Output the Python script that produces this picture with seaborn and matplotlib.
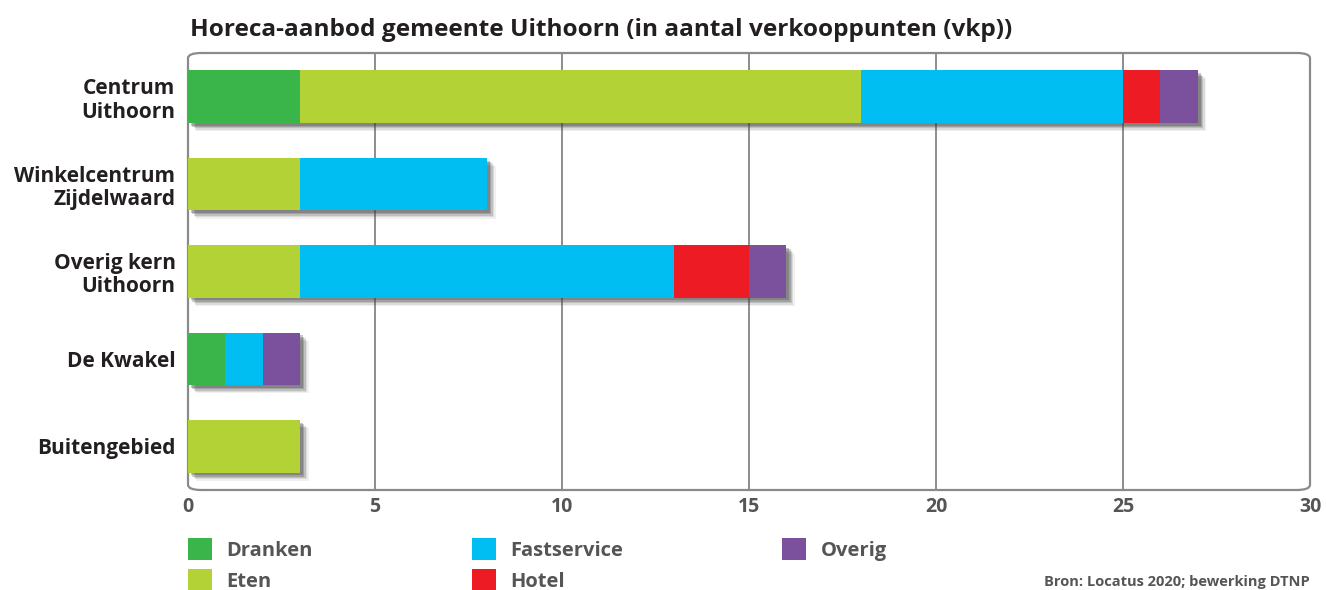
import matplotlib
matplotlib.use("Agg")
import matplotlib.pyplot as plt
import matplotlib.patheffects as pe
from matplotlib.patches import FancyBboxPatch, Patch
import seaborn as sns
import pandas as pd
import numpy as np

categories = ["Centrum\nUithoorn", "Winkelcentrum\nZijdelwaard", "Overig kern\nUithoorn", "De Kwakel", "Buitengebied"]
series = ["Dranken", "Eten", "Fastservice", "Hotel", "Overig"]
dranken = [3, 0, 0, 1, 0]
eten = [15, 3, 3, 0, 3]
fastservice = [7, 5, 10, 1, 0]
hotel = [1, 0, 2, 0, 0]
overig = [1, 0, 1, 1, 0]
colors = ["#3ab54a", "#b2d235", "#00bdf2", "#ed1c24", "#7b519d"]
xticks = [0, 5, 10, 15, 20, 25, 30]

sns.set_theme(style="white")
plt.rcParams["font.family"] = ["Open Sans", "DejaVu Sans"]

values = [dranken, eten, fastservice, hotel, overig]
cum = np.cumsum(np.array(values), axis=0)

fig = plt.figure(figsize=(13.26, 5.90), dpi=100)
ax = fig.add_axes([188/1326, 1 - 490/590, (1310-188)/1326, (490-53)/590])

# draw cumulative totals, outermost first
for i in range(len(series) - 1, -1, -1):
    df = pd.DataFrame({"cat": categories, "val": cum[i]})
    sns.barplot(data=df, y="cat", x="val", color=colors[i], orient="h",
                width=0.6, ax=ax, saturation=1, linewidth=0, zorder=3)

# soft drop shadow on total bars only (first drawn)
n = len(categories)
shadow = [pe.SimplePatchShadow(offset=(o, -o), shadow_rgbFace="#444444", alpha=a)
          for o, a in [(6, 0.08), (5, 0.12), (4, 0.18), (3, 0.25), (2, 0.3)]]
for k, p in enumerate(ax.patches):
    if k < n:
        p.set_path_effects(shadow + [pe.Normal()])

ax.set_xlim(0, 30)
ax.set_ylim(4.5, -0.5)
ax.set_xticks(xticks)
ax.set_xticklabels([str(t) for t in xticks])
ax.set_xlabel("")
ax.set_ylabel("")
for s in ax.spines.values():
    s.set_visible(False)
ax.grid(False)
for t in xticks[1:-1]:
    ax.axvline(t, color="#7a7a7a", lw=1.2, zorder=1)

frame = FancyBboxPatch((0, 0), 1, 1, boxstyle="round,pad=0,rounding_size=0.012",
                       transform=ax.transAxes, fill=False, ec="#8a8a8a", lw=1.6,
                       clip_on=False, zorder=2)
ax.add_patch(frame)

ax.tick_params(axis="x", length=0, pad=5, labelsize=14, labelcolor="#555555")
ax.tick_params(axis="y", length=0, pad=9, labelsize=15, labelcolor="#231f20")
for lab in ax.get_xticklabels():
    lab.set_fontweight("bold")
for lab in ax.get_yticklabels():
    lab.set_fontweight("bold")
    lab.set_horizontalalignment("right")
    lab.set_multialignment("right")
    lab.set_linespacing(1.15)

fig.text(190/1326, 1 - 30/590, "Horeca-aanbod gemeente Uithoorn (in aantal verkooppunten (vkp))",
         fontsize=17.6, fontweight="bold", color="#231f20", va="center", ha="left")

handles = [Patch(facecolor=c, edgecolor="none") for c in colors]
leg = fig.legend(handles, series, ncol=3, loc="upper left",
                 bbox_to_anchor=(170/1326, 1 - 520/590), frameon=False,
                 fontsize=14.5, handlelength=1.2, handleheight=1.3,
                 handletextpad=0.7, columnspacing=7.9, labelspacing=0.4)
for t in leg.get_texts():
    t.set_color("#555555")
    t.set_fontweight("bold")

fig.text(1310/1326, 1 - 582/590, "Bron: Locatus 2020; bewerking DTNP",
         fontsize=10.5, color="#555555", ha="right", va="center", fontweight="bold")

fig.savefig("out.png", dpi=100, facecolor="white")
